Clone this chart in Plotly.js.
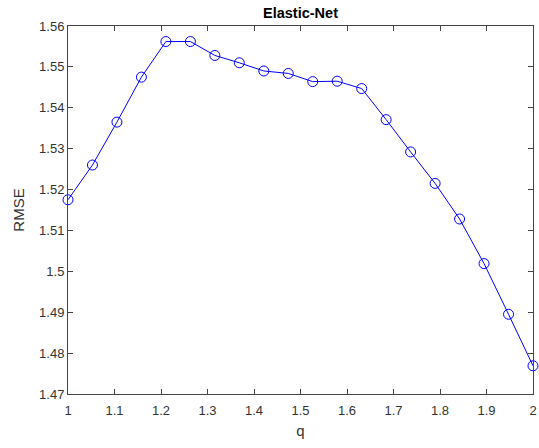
<!DOCTYPE html>
<html>
<head>
<meta charset="utf-8">
<script src="https://cdn.plot.ly/plotly-3.0.1.min.js"></script>
<style>
  html, body { margin: 0; padding: 0; background: #fff; }
  #chart { width: 539px; height: 448px; }
</style>
</head>
<body>
<div id="chart"></div>
<script>
// q values of the norm parameter and the cross-validated RMSE at each
const q = [1.0000, 1.0526, 1.1053, 1.1579, 1.2105, 1.2632, 1.3158, 1.3684, 1.4211, 1.4737,
           1.5263, 1.5789, 1.6316, 1.6842, 1.7368, 1.7895, 1.8421, 1.8947, 1.9474, 2.0000];
const rmse = [1.5175, 1.5260, 1.5365, 1.5475, 1.5562, 1.5562, 1.5528, 1.5510, 1.5490, 1.5484,
              1.5464, 1.5465, 1.5447, 1.5371, 1.5292, 1.5215, 1.5128, 1.5019, 1.4895, 1.4769];
const xTicks = [1, 1.1, 1.2, 1.3, 1.4, 1.5, 1.6, 1.7, 1.8, 1.9, 2];
const yTicks = [1.47, 1.48, 1.49, 1.5, 1.51, 1.52, 1.53, 1.54, 1.55, 1.56];

const axisColor = '#444444';
const fontFam = 'Liberation Sans, Arial, sans-serif';

const trace = {
  x: q,
  y: rmse,
  type: 'scatter',
  mode: 'lines+markers',
  cliponaxis: false,
  line: { color: '#0000ff', width: 1 },
  marker: { symbol: 'circle-open', size: 10, color: '#0000ff', line: { width: 1, color: '#0000ff' } },
  hoverinfo: 'x+y'
};

const axisCommon = {
  showgrid: false,
  zeroline: false,
  showline: true,
  mirror: 'ticks',
  linecolor: axisColor,
  linewidth: 1,
  ticks: 'inside',
  ticklen: 5,
  tickwidth: 1,
  tickcolor: axisColor,
  tickfont: { family: fontFam, size: 13, color: '#333333' }
};

const layout = {
  width: 539,
  height: 448,
  margin: { l: 68, r: 6, t: 26, b: 54 },
  paper_bgcolor: '#ffffff',
  plot_bgcolor: '#ffffff',
  showlegend: false,
  title: {
    text: '<b>Elastic-Net</b>',
    font: { family: fontFam, size: 14.5, color: '#000000' },
    x: 0.5, xanchor: 'center', xref: 'paper',
    y: 0.972, yanchor: 'middle', yref: 'container'
  },
  xaxis: Object.assign({}, axisCommon, {
    range: [1, 2],
    tickmode: 'array',
    tickvals: xTicks,
    ticktext: xTicks.map(v => String(v)),
    ticklabelstandoff: 4,
    title: { text: 'q', font: { family: fontFam, size: 15, color: '#333333' }, standoff: 8 }
  }),
  yaxis: Object.assign({}, axisCommon, {
    range: [1.47, 1.56],
    tickmode: 'array',
    tickvals: yTicks,
    ticktext: yTicks.map(v => String(v)),
    title: { text: 'RMSE', font: { family: fontFam, size: 15, color: '#333333' }, standoff: 10 }
  })
};

Plotly.newPlot('chart', [trace], layout, { displayModeBar: false, staticPlot: true });
</script>
</body>
</html>
